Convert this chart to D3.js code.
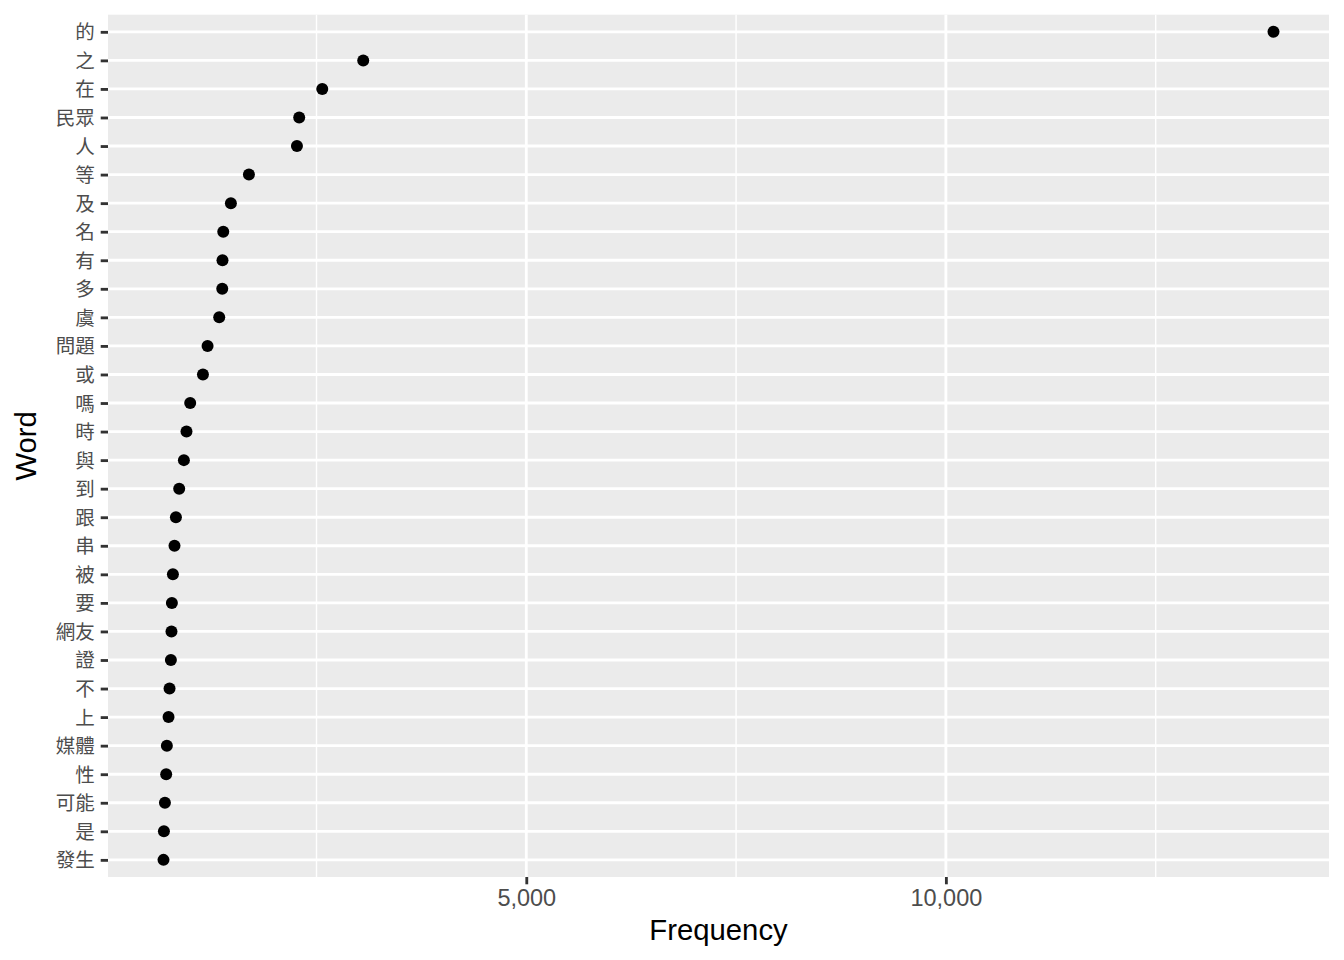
<!DOCTYPE html>
<html>
<head>
<meta charset="utf-8">
<script src="https://cdn.jsdelivr.net/npm/d3@7"></script>
<style>
  html, body { margin: 0; padding: 0; background: #fff; }
  svg { display: block; }
</style>
</head>
<body>
<svg id="chart" width="1344" height="960"></svg>
<script>
// ---- data (ordered top to bottom) ----
const words = ["的","之","在","民眾","人","等","及","名","有","多","虞","問題","或","嗎","時","與","到","跟","串","被","要","網友","證","不","上","媒體","性","可能","是","發生"];
const freq  = [13904,3057,2569,2294,2267,1695,1480,1389,1380,1377,1341,1202,1147,995,951,920,864,825,808,789,777,772,765,749,737,717,709,694,682,677];
const xMajorTicks = [5000, 10000];
const xMinorTicks = [2500, 7500, 12500];
const xLabel = "Frequency";
const yLabel = "Word";

const W = 1344, H = 960;
const panel = { left: 108, right: 1329, top: 14.7, bottom: 877 };

const svg = d3.select("#chart");

// ggplot-style continuous expansion (5%)
const mn = d3.min(freq), mx = d3.max(freq), span = mx - mn;
const x = d3.scaleLinear()
  .domain([mn - 0.05 * span, mx + 0.05 * span])
  .range([panel.left, panel.right]);

// discrete axis with 0.6 expansion
const n = words.length;
const yPos = d3.scaleLinear().domain([-0.6, n - 1 + 0.6]).range([panel.top, panel.bottom]);
const y = w => yPos(words.indexOf(w));

// panel background
svg.append("rect")
  .attr("x", panel.left).attr("y", panel.top)
  .attr("width", panel.right - panel.left).attr("height", panel.bottom - panel.top)
  .attr("fill", "#EBEBEB");

// minor vertical grid
svg.append("g").selectAll("line").data(xMinorTicks).join("line")
  .attr("x1", d => x(d)).attr("x2", d => x(d))
  .attr("y1", panel.top).attr("y2", panel.bottom)
  .attr("stroke", "#fff").attr("stroke-width", 1.42);

// major vertical grid
svg.append("g").selectAll("line").data(xMajorTicks).join("line")
  .attr("x1", d => x(d)).attr("x2", d => x(d))
  .attr("y1", panel.top).attr("y2", panel.bottom)
  .attr("stroke", "#fff").attr("stroke-width", 2.84);

// major horizontal grid
svg.append("g").selectAll("line").data(words).join("line")
  .attr("x1", panel.left).attr("x2", panel.right)
  .attr("y1", d => y(d)).attr("y2", d => y(d))
  .attr("stroke", "#fff").attr("stroke-width", 2.84);

// points
svg.append("g").selectAll("circle").data(words).join("circle")
  .attr("cx", (d, i) => x(freq[i]))
  .attr("cy", d => y(d))
  .attr("r", 6)
  .attr("fill", "#000");

// x axis via d3
const xAxis = d3.axisBottom(x)
  .tickValues(xMajorTicks)
  .tickFormat(d3.format(","))
  .tickSizeInner(7.3).tickSizeOuter(0).tickPadding(6);
const gx = svg.append("g").attr("transform", `translate(0,${panel.bottom})`).call(xAxis);
gx.select(".domain").remove();
gx.selectAll(".tick line").attr("stroke", "#333").attr("stroke-width", 2.84);
gx.selectAll(".tick text")
  .attr("fill", "#4D4D4D")
  .attr("font-family", "'Liberation Sans', Arial, sans-serif")
  .attr("font-size", 23.5)
  .attr("dy", null).attr("y", 29)
  .attr("dominant-baseline", "alphabetic");

// y axis via d3
const yBand = d3.scalePoint().domain(words).range([yPos(0), yPos(n - 1)]);
const yAxis = d3.axisLeft(yBand).tickSizeInner(7.3).tickSizeOuter(0).tickPadding(6);
const gy = svg.append("g").attr("transform", `translate(${panel.left},0)`).call(yAxis);
gy.select(".domain").remove();
gy.selectAll(".tick line").attr("stroke", "#333").attr("stroke-width", 2.84);
gy.selectAll(".tick text")
  .attr("fill", "#4D4D4D")
  .attr("font-family", "'Noto Sans CJK TC', 'Noto Sans CJK SC', sans-serif")
  .attr("font-size", 19.5)
  .attr("dominant-baseline", "alphabetic")
  .attr("dy", null)
  .attr("y", 7);

// axis titles
svg.append("text")
  .attr("x", (panel.left + panel.right) / 2).attr("y", 940)
  .attr("text-anchor", "middle")
  .attr("font-family", "'Liberation Sans', Arial, sans-serif")
  .attr("font-size", 29.3).attr("fill", "#000")
  .text(xLabel);

svg.append("text")
  .attr("transform", `translate(36,${(panel.top + panel.bottom) / 2}) rotate(-90)`)
  .attr("text-anchor", "middle")
  .attr("font-family", "'Liberation Sans', Arial, sans-serif")
  .attr("font-size", 29.3).attr("fill", "#000")
  .text(yLabel);
</script>
</body>
</html>
